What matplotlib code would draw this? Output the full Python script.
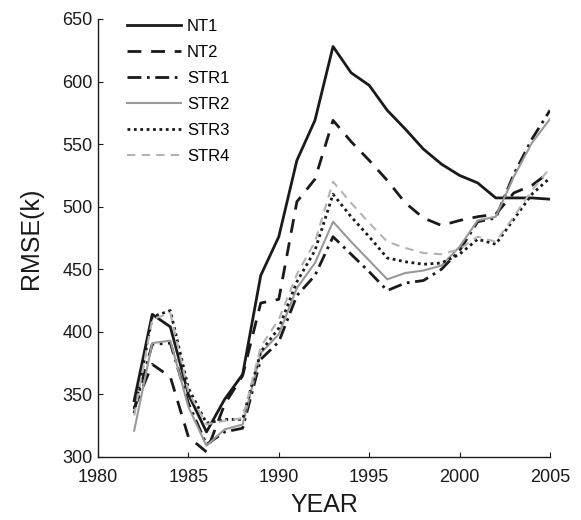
import matplotlib.pyplot as plt

plt.rcParams['font.family'] = ['Liberation Sans', 'DejaVu Sans']

years = list(range(1982, 2006))

nt1 = [345, 414, 404, 350, 320, 346, 366, 445, 476, 537, 569, 628,
       607, 597, 577, 562, 546, 534, 525, 519, 507, 507, 507, 506]
nt2 = [339, 374, 364, 316, 304, 342, 365, 423, 426, 504, 522, 569,
       552, 537, 521, 503, 491, 485, 489, 492, 494, 511, 517, 528]
str1 = [338, 390, 391, 343, 310, 320, 323, 378, 392, 429, 445, 476,
        462, 448, 433, 439, 441, 450, 465, 488, 491, 526, 554, 577]
str2 = [321, 391, 393, 340, 309, 322, 326, 383, 398, 435, 455, 488,
        472, 457, 442, 447, 449, 453, 468, 489, 492, 524, 551, 570]
str3 = [335, 412, 417, 355, 327, 330, 330, 384, 403, 440, 465, 510,
        492, 476, 459, 456, 454, 455, 462, 474, 470, 490, 510, 523]
str4 = [333, 410, 415, 352, 326, 329, 331, 388, 410, 446, 472, 520,
        503, 487, 472, 467, 463, 462, 466, 476, 472, 492, 513, 531]

fig = plt.figure(figsize=(5.81, 5.2), dpi=100)
ax = fig.add_axes([0.1687, 0.1212, 0.7779, 0.8423])

ax.plot(years, nt1, color='#1a1a1a', linestyle='-', linewidth=2.0, label='NT1')
ax.plot(years, nt2, color='#1a1a1a', linestyle=(0, (5, 3.5)), linewidth=2.0, label='NT2')
ax.plot(years, str1, color='#1a1a1a', linestyle=(0, (5, 2, 1, 2)), linewidth=2.0, label='STR1')
ax.plot(years, str2, color='#999999', linestyle='-', linewidth=1.5, label='STR2')
ax.plot(years, str3, color='#1a1a1a', linestyle=(0, (1, 1.3)), linewidth=2.0, label='STR3')
ax.plot(years, str4, color='#b3b3b3', linestyle=(0, (4, 3)), linewidth=1.5, label='STR4')

ax.set_xlim(1980, 2005)
ax.set_ylim(300, 650)
ax.set_xticks(range(1980, 2006, 5))
ax.set_yticks(range(300, 651, 50))
ax.tick_params(direction='in', length=3.5, labelsize=13, colors='#1a1a1a')
ax.tick_params(axis='x', pad=9)
ax.tick_params(axis='y', pad=4)
ax.spines['top'].set_visible(False)
ax.spines['right'].set_visible(False)
for s in ['left', 'bottom']:
    ax.spines[s].set_linewidth(1.0)
    ax.spines[s].set_color('#1a1a1a')

ax.set_xlabel('YEAR', fontsize=18, color='#1a1a1a', labelpad=5)
ax.set_ylabel('RMSE(k)', fontsize=18, color='#1a1a1a', labelpad=14)

ax.legend(loc='upper left', bbox_to_anchor=(0.032, 1.035), frameon=False,
          fontsize=12, handlelength=3.2, handletextpad=0.36, labelspacing=0.66)

fig.savefig('out.png', dpi=100)
